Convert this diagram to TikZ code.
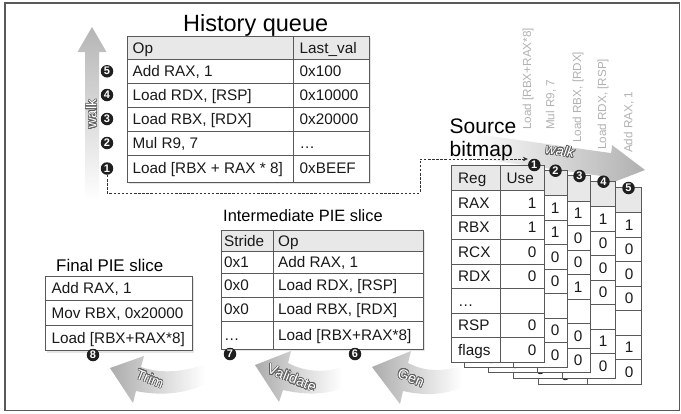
\documentclass[tikz,border=0pt]{standalone}
\usepackage{fontspec}
\setmainfont{Liberation Sans}
\usepackage{contour}
\contourlength{0.6pt}
\contournumber{24}
\usetikzlibrary{arrows.meta}
\newcommand\tblf{\fontsize{15.3}{18}\selectfont}
\newcommand\outl[1]{\contour{gray!75!black}{#1}}
\tikzset{
  tline/.style={draw=black!65, line width=0.8pt},
  hdr/.style={fill=gray!18},
  tshadow/.style={fill=black!10},
  cell/.style={inner sep=0pt, anchor=base west, font=\tblf, text=black!90},
  celle/.style={inner sep=0pt, anchor=base east, font=\tblf, text=black!90},
  num/.style={circle, fill=black!88, text=white, inner sep=0pt, minimum size=12.5pt, font=\fontsize{11}{11}\selectfont\bfseries},
  vlab/.style={rotate=90, anchor=west, inner sep=0pt, font=\fontsize{11.7}{12}\selectfont, text=gray!60},
  ttl/.style={inner sep=0pt, anchor=base west},
  outtxt/.style={inner sep=0pt, text=white, font=\fontsize{14.5}{14.5}\selectfont},
  dashconn/.style={draw=black!80, line width=0.7pt, dash pattern=on 2.5pt off 1.6pt}
}
% #1 name, #2 left, #3 right, #4 top, #5 values, #6 x offset of "Use"
\newcommand\bmlayer[6]{%
  \fill[white] (#2,#4) rectangle (#3,{#4+197});
  \fill[hdr] (#2,#4) rectangle (#3,{#4+25.5});
  \draw[tline] (#2,#4) rectangle (#3,{#4+197});
  \foreach \k in {0,...,6} \draw[tline] (#2,{#4+25.5+24.5*\k}) -- (#3,{#4+25.5+24.5*\k});
  \draw[tline] ({#2+49},#4) -- ({#2+49},{#4+197});
  \node[cell] (#1h1) at ({#2+7},{#4+18.2}) {Reg};
  \node[cell] (#1h2) at ({#2+#6},{#4+18.2}) {Use};
  \foreach \r [count=\i] in {RAX,RBX,RCX,RDX,…,RSP,flags}
    \node[cell] (#1r\i) at ({#2+7},{#4+25.5+24.5*(\i-0.5)+5.4}) {\r};
  \foreach \v [count=\i] in {#5}
    \node[celle] (#1v\i) at ({#3-7.5},{#4+25.5+24.5*(\i-0.5)+5.4}) {\v};
}
\begin{document}
\begin{tikzpicture}[x=1pt,y=-1pt]
\useasboundingbox (0,0) rectangle (681,413);
\fill[white] (0,0) rectangle (681,413);
\draw[draw=black!65, line width=1.3pt] (5,3) rectangle (679.5,410.5);

% ---------- left walk arrow ----------
\shade[top color=gray!58, bottom color=white]
  (92,27) -- (106.5,52) -- (99,52) -- (99,200) -- (85,200) -- (85,52) -- (77.5,52) -- cycle;
\node[outtxt, rotate=90] (walkL) at (91.5,114) {\outl{walk}};

% ---------- History queue ----------
\node[ttl, font=\fontsize{23.5}{26}\selectfont] (hqt) at (183,31.7) {History queue};
\fill[tshadow] (129,38) rectangle (371,184);
\fill[white] (127,36) rectangle (369,182);
\fill[hdr] (127,36) rectangle (369,59.5);
\draw[tline] (127,36) rectangle (369,182);
\foreach \y in {59.5,83,107,131,155} \draw[tline] (127,\y) -- (369,\y);
\draw[tline] (293,36) -- (293,182);
\foreach \a/\b/\yc [count=\i] in {Op/Last\_val/47.75, Add RAX{,} 1/0x100/71.25, Load RDX{,} [RSP]/0x10000/95, Load RBX{,} [RDX]/0x20000/119, Mul R9{,} 7/…/143, Load [RBX + RAX * 8]/0xBEEF/168.5}{
  \node[cell] (hqa\i) at (132.5,{\yc+5.4}) {\a};
  \node[cell] (hqb\i) at (299.5,{\yc+5.4}) {\b};
}
\node[num] (hq5) at (107,71.25) {5};
\node[num] (hq4) at (107,95) {4};
\node[num] (hq3) at (107,119) {3};
\node[num] (hq2) at (107,143) {2};
\node[num] (hq1) at (107,168.5) {1};

% ---------- top-right walk arrow ----------
\shade[left color=white, right color=gray!62]
  (469.7,133.1) -- (611.1,153.1) -- (612.2,145.2) -- (645,170) -- (606.6,184.8) -- (607.7,176.9) -- (466.3,156.9) -- cycle;
\node[outtxt, rotate=-8, font=\fontsize{14.5}{14.5}\selectfont\itshape] (walkR) at (560,151) {\outl{walk}};

% rotated op labels
\node[vlab] (l1) at (528,130) {Load [RBX+RAX*8]};
\node[vlab] (l2) at (551,130) {Mul R9, 7};
\node[vlab] (l3) at (578,143) {Load RBX, [RDX]};
\node[vlab] (l4) at (603,150) {Load RDX, [RSP]};
\node[vlab] (l5) at (629,153) {Add RAX, 1};

% Source bitmap title
\node[ttl, font=\fontsize{21}{24}\selectfont] (sbt1) at (449.5,133.3) {Source};
\node[ttl, font=\fontsize{21}{24}\selectfont] (sbt2) at (449.5,156.7) {bitmap};

% ---------- bitmap layers ----------
\bmlayer{L5}{538}{641}{187}{1,0,0,0,{},1,0}{50}
\bmlayer{L4}{513}{615}{181}{1,0,0,0,{},1,0}{50}
\bmlayer{L3}{488}{590}{175.5}{1,0,0,1,{},0,0}{50}
\bmlayer{L2}{464}{567}{170}{1,1,0,0,{},0,0}{50}
\bmlayer{L1}{451}{544}{165}{1,1,0,0,{},0,0}{55.5}

\node[num] (bm1) at (534.3,165) {1};
\node[num] (bm2) at (555.5,170.7) {2};
\node[num] (bm3) at (579.5,176) {3};
\node[num] (bm4) at (603.5,181.7) {4};
\node[num] (bm5) at (628.5,188) {5};

% dashed connector
\coordinate (d1) at (107,193);
\coordinate (d2) at (420,193);
\coordinate (d3) at (420,159);
\draw[dashconn, -{Stealth[length=5pt,width=4.5pt]}] (hq1.south) -- (d1) -- (d2) -- (d3) -- (bm1.west |- d3);

% ---------- Intermediate PIE slice ----------
\node[ttl, font=\fontsize{16.4}{18}\selectfont] (ipt) at (223,221.7) {Intermediate PIE slice};
\fill[tshadow] (223,232) rectangle (425,351);
\fill[white] (221,230) rectangle (423,349);
\fill[hdr] (221,230) rectangle (423,251.5);
\draw[tline] (221,230) rectangle (423,349);
\foreach \y in {251.5,273.5,297,321} \draw[tline] (221,\y) -- (423,\y);
\draw[tline] (273,230) -- (273,349);
\foreach \a/\b/\yc [count=\i] in {Stride/Op/240.75, 0x1/Add RAX{,} 1/262.5, 0x0/Load RDX{,} [RSP]/285.25, 0x0/Load RBX{,} [RDX]/309, …/Load [RBX+RAX*8]/335}{
  \node[cell] (ipa\i) at (224,{\yc+5.4}) {\a};
  \node[cell] (ipb\i) at (278,{\yc+5.4}) {\b};
}
\node[num] (c7) at (230,354) {7};
\node[num] (c6) at (355,354) {6};

% ---------- Final PIE slice ----------
\node[ttl, font=\fontsize{16.9}{18}\selectfont] (fpt) at (56,271.7) {Final PIE slice};
\fill[tshadow] (47,278) rectangle (194,352.5);
\fill[white] (45,276) rectangle (192,350.5);
\draw[tline] (45,276) rectangle (192,350.5);
\foreach \y in {300.5,325.5} \draw[tline] (45,\y) -- (192,\y);
\foreach \a/\yc [count=\i] in {Add RAX{,} 1/288.25, Mov RBX{,} 0x20000/313, Load [RBX+RAX*8]/338}{
  \node[cell] (fpa\i) at (51.5,{\yc+5.4}) {\a};
}
\node[num] (c8) at (93,355) {8};

% ---------- curved arrows ----------
\shade[left color=gray!65, right color=white]
  (110,368) -- (144,356) -- (141,367) .. controls (160,374) and (185,372) .. (205,364)
  -- (205,384) .. controls (185,394) and (160,396) .. (136,391) -- (133,403) -- cycle;
\node[outtxt, rotate=-22] (trim) at (150,379) {\outl{Trim}};
\shade[left color=gray!65, right color=white]
  (255,365) -- (291,351) -- (288,363) .. controls (305,372) and (325,373) .. (342,367)
  -- (342,388) .. controls (325,395) and (305,395) .. (283,390) -- (279,402) -- cycle;
\node[outtxt, rotate=-22] (valid) at (292,378) {\outl{Validate}};
\shade[left color=gray!65, right color=white]
  (372,367) -- (411,351) -- (408,363) .. controls (425,372) and (445,372) .. (462,365)
  -- (462,387) .. controls (445,395) and (425,396) .. (403,391) -- (400,404) -- cycle;
\node[outtxt, rotate=-22] (gen) at (411,378) {\outl{Gen}};
\end{tikzpicture}
\end{document}
